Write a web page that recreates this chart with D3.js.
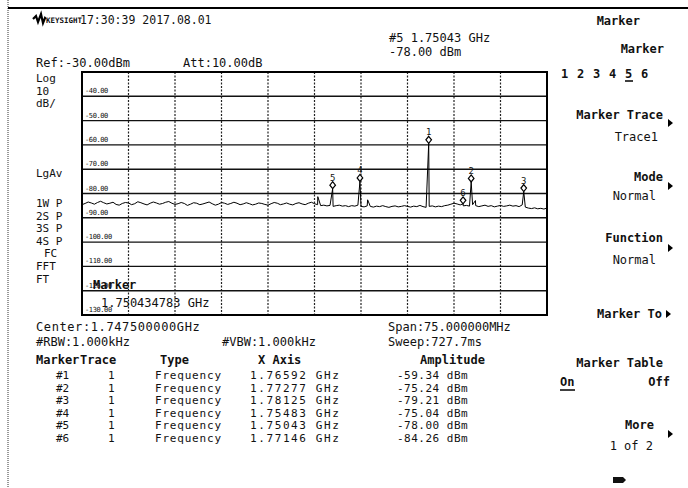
<!DOCTYPE html>
<html><head><meta charset="utf-8">
<script src="https://cdn.jsdelivr.net/npm/d3@7/dist/d3.min.js"></script>
<style>
html,body{margin:0;padding:0;background:#fff;}
text{font-family:"DejaVu Sans Mono","Liberation Mono",monospace;fill:#111;}
.sk{font-weight:bold;font-size:12px;}
.t{font-size:12px;}
.lt{font-size:11px;}
</style></head>
<body><svg id="c" width="688" height="488"></svg>
<script>
// ---- data ----
const refLevel = -30;          // dBm, top of screen
const dbPerDiv = 10;
const divisions = 10;
const startGHz = 1.710;
const stopGHz = 1.785;
const yTickLabels = ["-40.00","-50.00","-60.00","-70.00","-80.00","-90.00","-100.00","-110.00","-120.00","-130.00"];
const yTickValues = [-40,-50,-60,-70,-80,-90,-100,-110,-120,-130];
// noise floor trace, 0.5 MHz steps from 1.710 GHz
const traceStepGHz = 0.0005;
const traceFloor = [
-84.6,-84.1,-83.5,-83.9,-84.4,-83.7,-83.2,-83.8,-84.3,-84.0,
-83.6,-84.5,-84.8,-84.1,-83.7,-83.9,-84.6,-84.2,-83.4,-83.8,
-84.3,-84.7,-84.0,-83.5,-83.9,-84.4,-84.1,-83.6,-83.3,-84.0,
-84.5,-84.2,-83.7,-84.1,-84.9,-84.4,-83.8,-84.0,-84.6,-84.3,
-83.9,-83.5,-84.2,-84.8,-84.4,-83.7,-84.0,-84.5,-84.1,-83.6,
-84.0,-84.6,-84.3,-83.8,-84.2,-84.7,-84.4,-83.9,-84.1,-84.5,
-84.8,-84.2,-83.7,-84.0,-84.6,-84.3,-83.9,-84.4,-84.7,-84.1,
-83.8,-84.3,-84.6,-84.0,-83.6,-84.2,
-84.6,-85.0,-84.8,-85.1,-84.9,-85.3,-85.0,-84.8,-85.2,-85.0,
-85.4,-85.0,-85.2,-84.8,-85.3,-85.5,-85.1,-85.3,-85.6,-85.2,
-85.4,-85.0,-85.4,-85.7,-85.3,-85.1,-85.5,-85.3,-85.0,-85.3,
-85.6,-85.2,-85.4,-84.9,-85.4,-85.7,-85.3,-85.1,-85.5,-85.2,
-85.4,-85.0,-84.8,-84.4,-84.0,-84.3,-84.7,-85.1,-84.9,-85.2,
-84.6,-85.0,-85.4,-85.1,-84.8,-85.3,-85.0,-85.5,-85.2,-84.9,
-85.3,-85.1,-84.8,-85.2,-85.0,-85.4,-84.7,-85.6,-86.0,-86.2,
-85.9,-86.3,-86.1,-86.4,-86.0];
// narrow signals on the trace
const spikeFreqs = [1.74803, 1.75043, 1.75483, 1.75607, 1.76592, 1.77146, 1.77277, 1.77346, 1.78125];
const spikeAmps  = [-81.3, -78.00, -75.04, -82.6, -59.34, -84.26, -75.24, -82.9, -79.21];
// markers
const markerIds   = [1, 2, 3, 4, 5, 6];
const markerFreqs = [1.76592, 1.77277, 1.78125, 1.75483, 1.75043, 1.77146];
const markerAmps  = [-59.34, -75.24, -79.21, -75.04, -78.00, -84.26];
const markerXText = ["1.76592 GHz","1.77277 GHz","1.78125 GHz","1.75483 GHz","1.75043 GHz","1.77146 GHz"];
const markerAText = ["-59.34 dBm","-75.24 dBm","-79.21 dBm","-75.04 dBm","-78.00 dBm","-84.26 dBm"];

// ---- layout ----
const svg = d3.select("#c");
svg.append("rect").attr("width",688).attr("height",488).attr("fill","#fff");
const L = 82, R = 547, T = 72, B = 315;
const x = d3.scaleLinear().domain([startGHz, stopGHz]).range([L, R]);
const y = d3.scaleLinear().domain([refLevel, refLevel - dbPerDiv*divisions]).range([T, B]);

// page borders
svg.append("line").attr("x1",8).attr("x2",8).attr("y1",0).attr("y2",488)
  .attr("stroke","#333").attr("stroke-width",1).attr("stroke-dasharray","1,1");
svg.append("line").attr("x1",8).attr("x2",688).attr("y1",8).attr("y2",8)
  .attr("stroke","#000").attr("stroke-width",2);

// grid
const g = svg.append("g");
const xGridVals = d3.range(divisions+1).map(i => startGHz + i*(stopGHz-startGHz)/divisions);
g.selectAll(".vg").data(xGridVals.slice(1,-1)).join("line")
  .attr("x1",d=>x(d)).attr("x2",d=>x(d)).attr("y1",T).attr("y2",B)
  .attr("stroke","#222").attr("stroke-width",1.2).attr("stroke-dasharray","2,1.5");
g.selectAll(".hg").data(yTickValues.slice(0,-1)).join("line")
  .attr("x1",L).attr("x2",R).attr("y1",d=>y(d)).attr("y2",d=>y(d))
  .attr("stroke","#111").attr("stroke-width",1.4);
g.append("rect").attr("x",L).attr("y",T).attr("width",R-L).attr("height",B-T)
  .attr("fill","none").attr("stroke","#000").attr("stroke-width",2);
g.selectAll(".yl").data(yTickValues).join("text")
  .attr("x",L+3).attr("y",d=>y(d)-3)
  .attr("font-size","7px").attr("letter-spacing","-0.4")
  .text((d,i)=>yTickLabels[i]);

// trace
const pts = traceFloor.map((v,i)=>[startGHz + i*traceStepGHz, v]);
spikeFreqs.forEach((f,i)=>pts.push([f, spikeAmps[i]]));
pts.sort((a,b)=>a[0]-b[0]);
svg.append("path").datum(pts)
  .attr("d", d3.line().x(d=>x(d[0])).y(d=>y(d[1])))
  .attr("fill","none").attr("stroke","#000").attr("stroke-width",1);

// markers
const mg = svg.selectAll(".mk").data(markerIds).join("g")
  .attr("transform",(d,i)=>`translate(${x(markerFreqs[i])},${y(markerAmps[i])})`);
mg.append("path").attr("d","M0,-7 L2.8,-3.5 L0,0 L-2.8,-3.5 Z")
  .attr("fill","#fff").attr("stroke","#000").attr("stroke-width",1.2);
mg.append("text").attr("x",0).attr("y",-8).attr("text-anchor","middle")
  .attr("font-size","9px").text(d=>d);

// plot overlay text
svg.append("text").attr("x",93).attr("y",289).attr("class","sk").attr("font-size","11px").text("Marker");
svg.append("text").attr("x",101).attr("y",307).attr("class","t").text("1.750434783 GHz");

// header
const logo = svg.append("g").attr("transform","translate(33,19)");
logo.append("path").attr("d","M0,0 L3,-3 L5,3 L8,-5 L10,4 L12,-1 L13,0")
  .attr("fill","none").attr("stroke","#000").attr("stroke-width",2.2);
svg.append("text").attr("x",46).attr("y",23).attr("font-size","7.5px").attr("font-weight","bold").text("KEYSIGHT");
svg.append("text").attr("x",80).attr("y",24).attr("font-size","11.5px").text("17:30:39 2017.08.01");

svg.append("text").attr("x",36).attr("y",67).attr("class","t").text("Ref:-30.00dBm");
svg.append("text").attr("x",183).attr("y",67).attr("class","t").text("Att:10.00dB");
svg.append("text").attr("x",389).attr("y",42).attr("class","t").attr("font-size","11px").text("#5 1.75043 GHz");
svg.append("text").attr("x",389).attr("y",56).attr("class","t").attr("font-size","11px").text("-78.00 dBm");

// left annotations
const leftLab = [["Log",36,82],["10",36,94.5],["dB/",36,107],["LgAv",36,177],["1W P",36,207],["2S P",36,219.5],
  ["3S P",36,232],["4S P",36,244.5],["FC",44,257],["FFT",36,270],["FT",36,283]];
svg.selectAll(".ll").data(leftLab).join("text").attr("class","lt")
  .attr("x",d=>d[1]).attr("y",d=>d[2]).text(d=>d[0]);

// bottom info
svg.append("text").attr("x",36).attr("y",331).attr("class","t").attr("letter-spacing","0.6").text("Center:1.747500000GHz");
svg.append("text").attr("x",36).attr("y",346).attr("class","t").text("#RBW:1.000kHz");
svg.append("text").attr("x",222).attr("y",346).attr("class","t").text("#VBW:1.000kHz");
svg.append("text").attr("x",388).attr("y",331).attr("class","t").text("Span:75.000000MHz");
svg.append("text").attr("x",388).attr("y",346).attr("class","t").text("Sweep:727.7ms");

// marker table
const hdr = [["Marker",36],["Trace",80],["Type",160],["X Axis",258],["Amplitude",420]];
svg.selectAll(".th").data(hdr).join("text").attr("class","sk").attr("font-size","11.5px")
  .attr("x",d=>d[1]).attr("y",364).text(d=>d[0]);
const rowY = d3.scaleLinear().domain([0,1]).range([379,391.5]);
const rows = svg.selectAll(".tr").data(markerIds).join("g")
  .attr("transform",(d,i)=>`translate(0,${rowY(i)})`);
rows.append("text").attr("class","lt").attr("x",56).text(d=>"#"+d);
rows.append("text").attr("class","lt").attr("x",108).text("1");
rows.append("text").attr("class","lt").attr("x",155).attr("letter-spacing","0.8").text("Frequency");
rows.append("text").attr("class","lt").attr("x",250).attr("letter-spacing","1.6").text((d,i)=>markerXText[i]);
rows.append("text").attr("class","lt").attr("x",397).attr("letter-spacing","0.5").text((d,i)=>markerAText[i]);

// soft keys
const arrow = (ax,ay)=>svg.append("path").attr("d",`M${ax},${ay-4} L${ax+5},${ay} L${ax},${ay+4} Z`).attr("fill","#000");
svg.append("text").attr("x",640).attr("y",25).attr("class","sk").attr("text-anchor","end").text("Marker");
svg.append("text").attr("x",664).attr("y",53).attr("class","sk").attr("text-anchor","end").text("Marker");
const nums = ["1","2","3","4","5","6"];
svg.selectAll(".nm").data(nums).join("text").attr("class","sk")
  .attr("x",(d,i)=>561+i*16).attr("y",78).text(d=>d);
svg.append("line").attr("x1",625).attr("x2",633).attr("y1",81).attr("y2",81).attr("stroke","#000").attr("stroke-width",1.5);
svg.append("text").attr("x",663).attr("y",119).attr("class","sk").attr("text-anchor","end").text("Marker Trace");
arrow(668,123);
svg.append("text").attr("x",658).attr("y",141).attr("class","t").attr("text-anchor","end").text("Trace1");
svg.append("text").attr("x",663).attr("y",181).attr("class","sk").attr("text-anchor","end").text("Mode");
arrow(668,186);
svg.append("text").attr("x",656).attr("y",200).attr("class","t").attr("text-anchor","end").text("Normal");
svg.append("text").attr("x",663).attr("y",242).attr("class","sk").attr("text-anchor","end").text("Function");
arrow(668,248);
svg.append("text").attr("x",656).attr("y",264).attr("class","t").attr("text-anchor","end").text("Normal");
svg.append("text").attr("x",662).attr("y",318).attr("class","sk").attr("text-anchor","end").text("Marker To");
arrow(666,314);
svg.append("text").attr("x",663).attr("y",367).attr("class","sk").attr("text-anchor","end").text("Marker Table");
svg.append("text").attr("x",560).attr("y",386).attr("class","sk").text("On");
svg.append("line").attr("x1",560).attr("x2",575).attr("y1",390).attr("y2",390).attr("stroke","#000").attr("stroke-width",1.5);
svg.append("text").attr("x",670).attr("y",386).attr("class","sk").attr("text-anchor","end").text("Off");
svg.append("text").attr("x",654).attr("y",429).attr("class","sk").attr("text-anchor","end").text("More");
arrow(668,434);
svg.append("text").attr("x",653).attr("y",450).attr("class","t").attr("text-anchor","end").text("1 of 2");
svg.append("path").attr("d","M613,477 L623,477 L626,480 L623,483 L613,483 Z").attr("fill","#111");
</script></body></html>
